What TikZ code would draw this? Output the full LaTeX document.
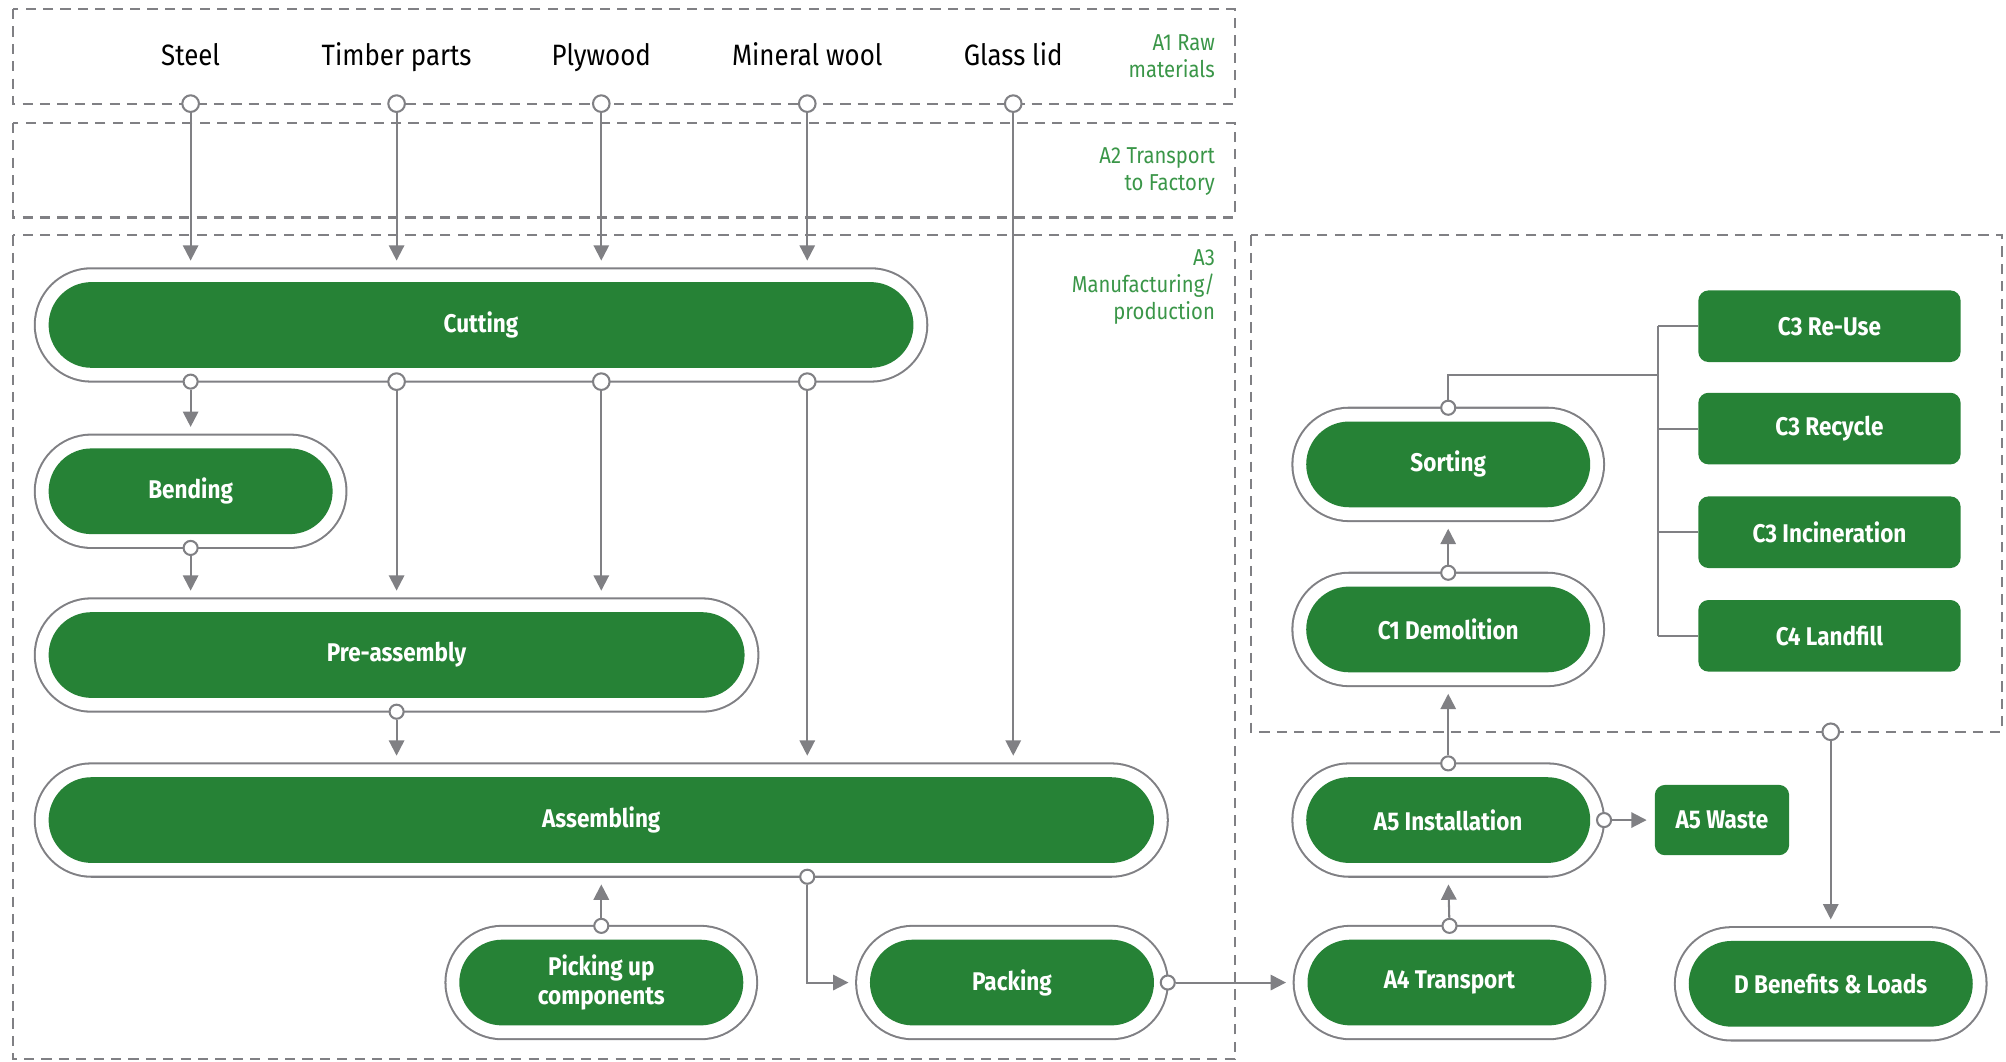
\documentclass[tikz,border=0pt]{standalone}
\usepackage{fontspec}
\setmainfont{Fira Sans}[FakeStretch=0.88]
\usetikzlibrary{arrows.meta}
\definecolor{stagegreen}{RGB}{38,130,54}
\definecolor{labelgreen}{RGB}{58,150,72}
\definecolor{linegray}{RGB}{128,128,132}
\begin{document}
\begin{tikzpicture}[x=0.5pt,y=-0.5pt,
    stage/.style={rectangle, rounded corners=16.75pt, fill=stagegreen, text=white,
      font=\bfseries\fontsize{10}{11.5}\selectfont, align=center,
      minimum height=33.5pt, minimum width=111pt, outer sep=5.4pt,
      preaction={draw=linegray, line width=11.6pt},
      preaction={draw=white, line width=10pt}},
    endbox/.style={rectangle, rounded corners=4pt, fill=stagegreen, text=white,
      font=\bfseries\fontsize{10}{11.5}\selectfont,
      minimum height=28pt, minimum width=102.5pt},
    port/.style={circle, draw=linegray, fill=white, line width=0.8pt,
      minimum size=5.5pt, inner sep=0pt},
    link/.style={draw=linegray, line width=0.8pt},
    arr/.style={link, -{Triangle[width=6pt,length=6pt]}, shorten >=3pt},
    zone/.style={draw=linegray, line width=0.8pt, dash pattern=on 4pt off 2.8pt},
    zonelabel/.style={text=labelgreen, font=\fontsize{9}{10.5}\selectfont,
      align=right, anchor=north east, inner sep=0pt},
    material/.style={font=\fontsize{11.5}{13}\selectfont, anchor=base}]
  \useasboundingbox (0,0) rectangle (1568,830);
  % zones
  \draw[zone] (10,7) rectangle (965,81);
  \draw[zone] (10,96) rectangle (965,170);
  \draw[zone] (10,184) rectangle (965,828);
  \draw[zone] (978,184) rectangle (1565,572);
  \node[zonelabel] (z1) at (950,27) {A1 Raw\\materials};
  \node[zonelabel] (z2) at (950,115) {A2 Transport\\to Factory};
  \node[zonelabel] (z3) at (950,195) {A3\\Manufacturing/\\production};
  % raw materials
  \node[material] (steel) at (149,51) {Steel};
  \node[material] (timber) at (310,51) {Timber parts};
  \node[material] (plywood) at (470,51) {Plywood};
  \node[material] (wool) at (631,51) {Mineral wool};
  \node[material] (glass) at (792,51) {Glass lid};
  % production stages
  \node[stage, minimum width=338pt] (cut) at (376,254) {Cutting};
  \node[stage] (bend) at (149,384) {Bending};
  \node[stage, minimum width=272pt] (pre) at (310,512) {Pre-assembly};
  \node[stage, minimum width=432pt] (asm) at (470,641) {Assembling};
  \node[stage] (pick) at (470,768) {Picking up\\components};
  \node[stage] (pack) at (791,768) {Packing};
  \node[stage] (trans) at (1133,768) {A4 Transport};
  \node[stage] (inst) at (1132,641) {A5 Installation};
  \node[stage] (demol) at (1132,492) {C1 Demolition};
  \node[stage] (sort) at (1132,363) {Sorting};
  \node[stage] (bene) at (1431,769) {D Benefits \& Loads};
  \node[endbox, minimum width=52.5pt, minimum height=27.5pt] (waste) at (1346,641) {A5 Waste};
  \node[endbox] (reuse) at (1430,255) {C3 Re-Use};
  \node[endbox] (recyc) at (1430,335) {C3 Recycle};
  \node[endbox] (incin) at (1430,416) {C3 Incineration};
  \node[endbox] (landf) at (1430,497) {C4 Landfill};
  % ports
  \node[port, minimum size=6.5pt] (m1) at (149,81) {};
  \node[port, minimum size=6.5pt] (m2) at (310,81) {};
  \node[port, minimum size=6.5pt] (m3) at (470,81) {};
  \node[port, minimum size=6.5pt] (m4) at (631,81) {};
  \node[port, minimum size=6.5pt] (m5) at (792,81) {};
  \node[port] (cb1) at (cut.south -| m1) {};
  \node[port, minimum size=6.5pt] (cb2) at (cut.south -| m2) {};
  \node[port, minimum size=6.5pt] (cb3) at (cut.south -| m3) {};
  \node[port, minimum size=6.5pt] (cb4) at (cut.south -| m4) {};
  \node[port] (bb) at (bend.south) {};
  \node[port] (pb) at (pre.south) {};
  \node[port] (ab) at (asm.south -| m4) {};
  \node[port] (kt) at (pick.north) {};
  \node[port] (kr) at (pack.east) {};
  \node[port] (tt) at (trans.north) {};
  \node[port] (ir) at (inst.east) {};
  \node[port] (it) at (inst.north) {};
  \node[port] (dt) at (demol.north) {};
  \node[port] (st) at (sort.north) {};
  \node[port, minimum size=6.5pt] (cp) at (1431,572) {};
  \coordinate (bus) at (1296,293);
  % flows
  \foreach \m in {m1,m2,m3,m4}
    \draw[arr] (\m) -- (cut.north -| \m);
  \draw[arr] (m5) -- (asm.north -| m5);
  \draw[arr] (cb1) -- (bend.north -| cb1);
  \draw[arr] (cb2) -- (pre.north -| cb2);
  \draw[arr] (cb3) -- (pre.north -| cb3);
  \draw[arr] (cb4) -- (asm.north -| cb4);
  \draw[arr] (bb) -- (pre.north -| bb);
  \draw[arr] (pb) -- (asm.north -| pb);
  \draw[arr] (kt) -- (asm.south -| kt);
  \draw[arr] (ab) |- (pack.west);
  \draw[arr] (kr) -- (trans.west);
  \draw[arr] (tt) -- (inst.south);
  \draw[arr] (ir) -- (waste.west);
  \draw[arr] (it) -- (demol.south);
  \draw[arr] (dt) -- (sort.south);
  \draw[arr] (cp) -- (bene.north);
  % end of life
  \draw[link] (st) |- (bus);
  \draw[link] (bus |- reuse) -- (bus |- landf);
  \foreach \b in {reuse,recyc,incin,landf}
    \draw[link] (bus |- \b) -- (\b.west);
\end{tikzpicture}
\end{document}
